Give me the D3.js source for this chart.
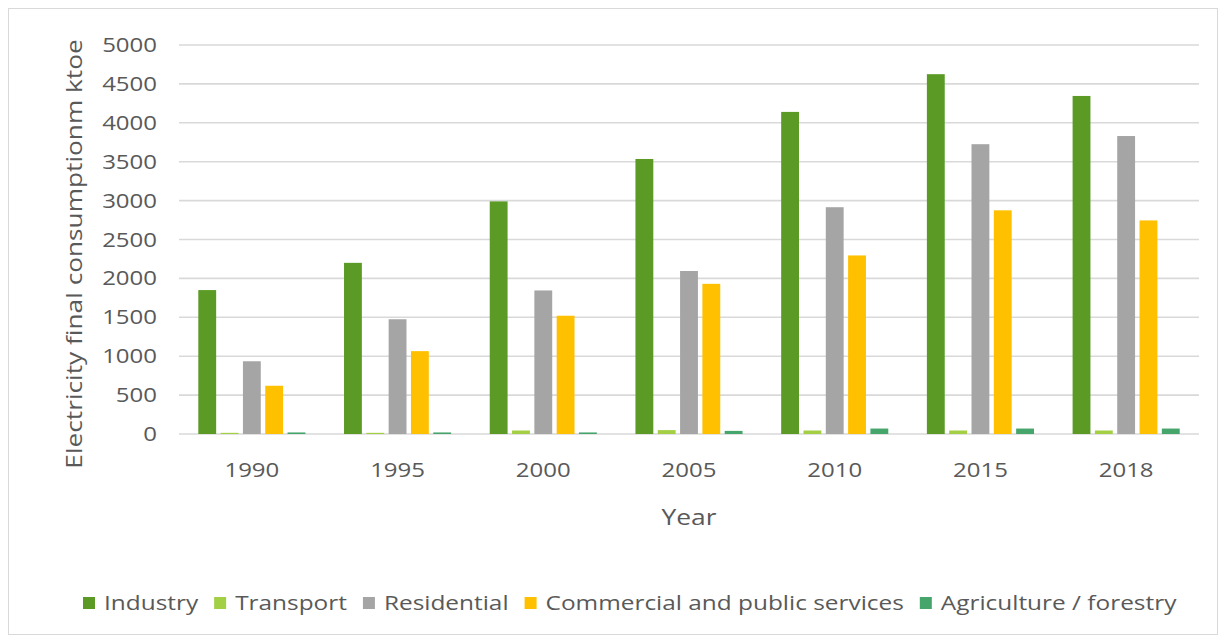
<!DOCTYPE html>
<html>
<head>
<meta charset="utf-8">
<script src="https://cdn.jsdelivr.net/npm/d3@7"></script>
<style>
  html, body { margin: 0; padding: 0; background: #ffffff; }
  svg { display: block; }
  text { font-family: "Open Sans", "Noto Sans", sans-serif; fill: #595959; }
</style>
</head>
<body>
<svg id="chart" width="1226" height="643"></svg>
<script>
// Electricity final consumption by sector (ktoe)
const years = ["1990", "1995", "2000", "2005", "2010", "2015", "2018"];
const sectors = ["Industry", "Transport", "Residential", "Commercial and public services", "Agriculture / forestry"];
const industry    = [1850, 2200, 2990, 3535, 4140, 4625, 4345];
const transport   = [15, 15, 45, 50, 45, 45, 45];
const residential = [935, 1475, 1845, 2095, 2915, 3725, 3830];
const commercial  = [620, 1065, 1520, 1930, 2295, 2875, 2745];
const agriculture = [20, 20, 20, 40, 70, 70, 70];
const yTicks = [0, 500, 1000, 1500, 2000, 2500, 3000, 3500, 4000, 4500, 5000];
const yTitle = "Electricity final consumptionm ktoe";
const xTitle = "Year";

const seriesValues = [industry, transport, residential, commercial, agriculture];
const colors = ["#5b9b25", "#a3cf45", "#a5a5a5", "#ffc000", "#45a56b"];

const svg = d3.select("#chart");
const W = 1226, H = 643;
const stretch = 1.2; // glyphs are drawn slightly wide

// outer frame
svg.append("rect")
  .attr("x", 8.5).attr("y", 8.5)
  .attr("width", W - 17).attr("height", H - 17)
  .attr("fill", "#ffffff").attr("stroke", "#d9d9d9").attr("stroke-width", 1);

const plot = { left: 179, right: 1199, top: 45, bottom: 434 };

const x0 = d3.scaleBand()
  .domain(years)
  .range([plot.left, plot.right])
  .paddingInner(0.265)
  .paddingOuter(0.1325);

const x1 = d3.scaleBand()
  .domain(sectors)
  .range([0, x0.bandwidth()])
  .paddingInner(0.2)
  .paddingOuter(0);

const y = d3.scaleLinear()
  .domain([0, 5000])
  .range([plot.bottom, plot.top]);

// horizontal gridlines
svg.append("g")
  .selectAll("line")
  .data(yTicks)
  .join("line")
  .attr("x1", plot.left).attr("x2", plot.right)
  .attr("y1", d => y(d)).attr("y2", d => y(d))
  .attr("stroke", "#d9d9d9")
  .attr("stroke-width", 1.6);

// y tick labels
svg.append("g")
  .selectAll("text")
  .data(yTicks)
  .join("text")
  .attr("transform", d => `translate(157, ${y(d) + 7}) scale(${stretch},1)`)
  .attr("text-anchor", "end")
  .attr("font-size", 20)
  .text(d => d);

// bars
const rows = years.map((yr, i) => ({ year: yr, values: sectors.map((s, k) => ({ sector: s, k, v: seriesValues[k][i] })) }));

const groups = svg.append("g")
  .selectAll("g")
  .data(rows)
  .join("g")
  .attr("transform", d => `translate(${x0(d.year)},0)`);

groups.selectAll("rect")
  .data(d => d.values)
  .join("rect")
  .attr("x", d => x1(d.sector))
  .attr("width", x1.bandwidth())
  .attr("y", d => y(d.v))
  .attr("height", d => y(0) - y(d.v))
  .attr("fill", d => colors[d.k]);

// x category labels
svg.append("g")
  .selectAll("text")
  .data(years)
  .join("text")
  .attr("transform", d => `translate(${x0(d) + x0.bandwidth() / 2}, 477) scale(${stretch},1)`)
  .attr("text-anchor", "middle")
  .attr("font-size", 20)
  .text(d => d);

// axis titles
svg.append("text")
  .attr("transform", `translate(${(plot.left + plot.right) / 2}, 525) scale(${stretch},1)`)
  .attr("text-anchor", "middle")
  .attr("font-size", 22)
  .text(xTitle);

svg.append("text")
  .attr("transform", `translate(82, 254) rotate(-90) scale(1.25,1)`)
  .attr("text-anchor", "middle")
  .attr("font-size", 21)
  .text(yTitle);

// legend, laid out left to right
const legendStretch = 1.22;
const legend = svg.append("g");
let lx = 83;
const ly = 610;
sectors.forEach((s, k) => {
  legend.append("rect")
    .attr("x", lx).attr("y", ly - 13)
    .attr("width", 12).attr("height", 12)
    .attr("fill", colors[k]);
  const t = legend.append("text")
    .attr("transform", `translate(${lx + 21}, ${ly}) scale(${legendStretch},1)`)
    .attr("font-size", 20)
    .text(s);
  const w = t.node().getComputedTextLength() * legendStretch;
  lx += 21 + w + 16;
});
</script>
</body>
</html>
